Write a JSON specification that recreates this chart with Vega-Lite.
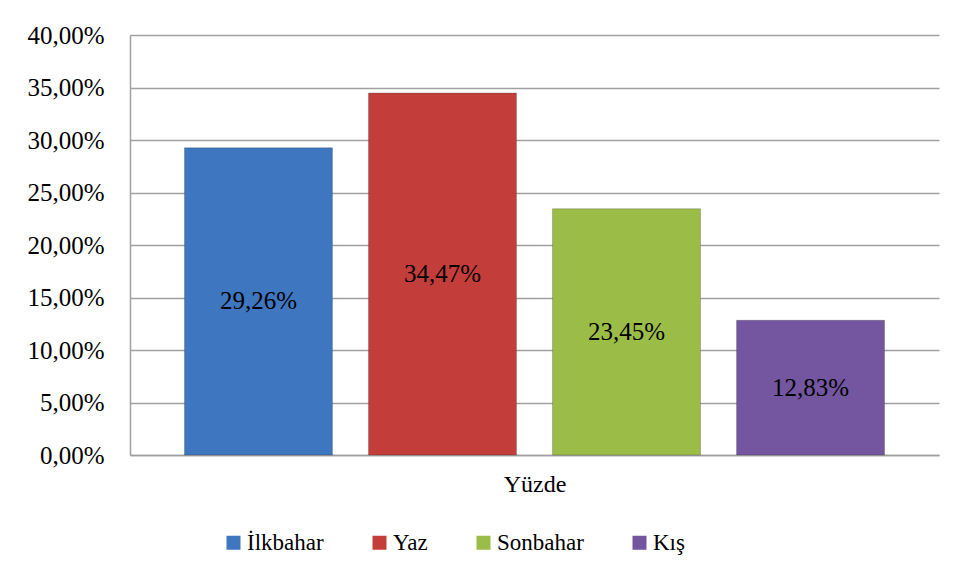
{
  "$schema": "https://vega.github.io/schema/vega-lite/v6.json",
  "autosize": "none",
  "width": 809,
  "height": 420,
  "padding": {"left": 130, "top": 35, "right": 22, "bottom": 126},
  "background": "white",
  "config": {
    "locale": {"number": {"decimal": ",", "thousands": ".", "grouping": [3], "currency": ["", " TL"]}},
    "view": {"stroke": null}
  },
  "data": {
    "values": [
      {"season": "İlkbahar", "value": 0.2926},
      {"season": "Yaz", "value": 0.3447},
      {"season": "Sonbahar", "value": 0.2345},
      {"season": "Kış", "value": 0.1283}
    ]
  },
  "layer": [
    {
      "mark": {"type": "bar", "stroke": "#2b2b2b", "strokeOpacity": 0.25, "strokeWidth": 1},
      "encoding": {
        "x": {
          "field": "season", "type": "nominal",
          "sort": ["İlkbahar", "Yaz", "Sonbahar", "Kış"],
          "scale": {"paddingInner": 0.196, "paddingOuter": 0.296},
          "axis": {
            "title": "Yüzde", "labels": false, "ticks": false,
            "domainColor": "#a0a0a0", "domainWidth": 1.5,
            "titleFont": "Liberation Serif", "titleFontSize": 24, "titleFontWeight": "normal",
            "titleColor": "#000000", "titlePadding": 17
          }
        },
        "y": {
          "field": "value", "type": "quantitative",
          "scale": {"domain": [0, 0.4]},
          "axis": {
            "title": null, "format": ".2%", "values": [0, 0.05, 0.1, 0.15, 0.2, 0.25, 0.3, 0.35, 0.4],
            "ticks": false, "labelPadding": 26,
            "labelFont": "Liberation Serif", "labelFontSize": 25, "labelColor": "#000000", "labelFontWeight": "normal",
            "gridColor": "#a0a0a0", "gridWidth": 1.5,
            "domainColor": "#a0a0a0", "domainWidth": 1.5
          }
        },
        "color": {
          "field": "season", "type": "nominal",
          "sort": ["İlkbahar", "Yaz", "Sonbahar", "Kış"],
          "scale": {"range": ["#3f76c0", "#c33e3b", "#9bbd48", "#7456a0"]},
          "legend": {
            "title": null, "orient": "none", "direction": "horizontal",
            "legendX": 92, "legendY": 496,
            "symbolType": "square", "symbolSize": 196, "symbolStrokeWidth": 0,
            "symbolOpacity": 1,
            "labelFont": "Liberation Serif", "labelFontSize": 23, "labelColor": "#000000", "labelFontWeight": "normal",
            "labelOffset": 2, "columnPadding": 44
          }
        }
      }
    },
    {
      "mark": {"type": "text", "baseline": "middle", "align": "center", "font": "Liberation Serif", "fontSize": 25, "fontWeight": "normal", "color": "#000000"},
      "encoding": {
        "x": {"field": "season", "type": "nominal", "sort": ["İlkbahar", "Yaz", "Sonbahar", "Kış"]},
        "y": {"field": "value", "type": "quantitative", "scale": {"domain": [0, 0.8]}, "axis": null},
        "text": {"field": "value", "type": "quantitative", "format": ".2%"}
      }
    }
  ],
  "resolve": {"scale": {"y": "independent"}}
}
